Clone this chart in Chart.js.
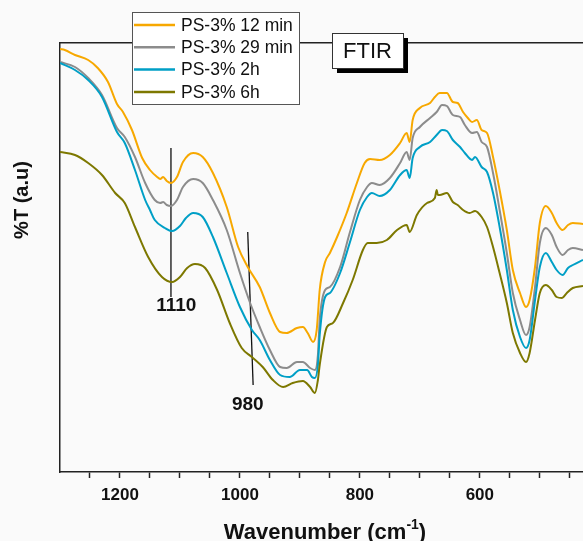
<!DOCTYPE html>
<html>
<head>
<meta charset="utf-8">
<script src="https://cdn.jsdelivr.net/npm/chart.js@4.4.1/dist/chart.umd.min.js"></script>
<style>
html,body{margin:0;padding:0;background:#fafafa;overflow:hidden;}
canvas{display:block;}
</style>
</head>
<body>
<canvas id="c" width="583" height="541"></canvas>
<script>
// ---- data (wavenumber in cm^-1, transmittance in arbitrary units) ----
const seriesNames = ['PS-3% 12 min', 'PS-3% 29 min', 'PS-3% 2h', 'PS-3% 6h'];
const seriesColors = ['#F7A800', '#8C8C8C', '#009FC6', '#7D7800'];

const wn12min = [1300,1292,1275,1253,1237,1220,1205,1195,1180,1163,1150,1138,1133,1128,1122,1115,1105,1095,1078,1062,1045,1022,1003,987,967,950,933,922,905,895,887,878,872,870,867,858,850,838,822,805,792,783,767,750,733,722,717,712,700,683,675,667,655,645,637,628,620,613,605,597,588,578,567,555,545,533,523,517,508,500,490,480,472,462,453,445,428];
const t12min  = [423,422,417,412,404,390,368,360,342,314,302,295,293,295,291,289,295,310,319,315,299,265,225,205,185,159,140,139,144,145,139,130,142,157,182,210,219,235,259,289,309,313,312,317,329,339,330,352,364,369,375,379,379,370,369,360,354,350,352,342,339,315,282,242,202,179,165,172,205,249,266,259,249,242,247,249,248];

const wn29min = [1300,1275,1253,1230,1205,1192,1175,1158,1142,1133,1128,1122,1115,1105,1095,1078,1062,1045,1022,1000,983,967,950,933,922,905,895,883,875,870,867,858,850,833,817,800,788,780,767,750,733,722,717,712,700,683,672,663,655,645,633,625,613,605,597,588,578,567,555,545,533,523,517,508,500,490,480,472,462,453,445,428];
const t29min  = [410,405,394,377,344,335,315,289,272,269,270,267,266,272,285,293,289,272,242,199,169,145,122,105,104,110,110,104,102,117,152,182,185,205,239,272,285,289,287,294,309,320,312,334,345,354,360,367,366,357,355,347,339,340,330,325,299,262,219,179,152,137,145,185,229,244,237,225,217,222,224,222];

const wn2h = [1300,1275,1253,1230,1205,1192,1175,1158,1150,1142,1125,1113,1100,1090,1078,1062,1045,1022,1000,980,967,950,933,917,900,888,880,875,870,867,858,850,833,817,800,788,780,767,750,733,722,717,712,700,683,672,663,655,645,633,625,613,608,597,588,578,567,555,545,533,523,517,508,500,490,480,472,462,453,445,428];
const t2h  = [409,402,392,375,340,329,302,272,262,252,244,241,246,254,259,255,235,199,165,142,132,112,97,95,102,102,95,94,107,137,175,179,199,229,262,275,279,276,282,297,302,294,314,325,330,337,342,341,332,325,319,312,315,305,300,279,245,202,162,135,124,132,172,205,219,210,202,197,204,207,212];

const wn6h = [1300,1275,1253,1230,1208,1192,1175,1153,1130,1113,1100,1088,1075,1058,1038,1017,997,980,962,945,928,912,895,883,875,870,867,855,845,828,812,795,787,772,755,738,722,717,705,688,675,672,670,667,655,645,637,628,617,608,597,588,578,567,555,545,533,523,517,508,500,490,480,472,463,455,445,428];
const t6h  = [320,317,309,297,279,269,245,215,195,190,195,204,208,204,182,149,124,115,105,92,85,89,91,85,79,92,107,145,149,169,192,222,229,229,232,242,247,240,257,269,274,282,277,277,279,270,267,262,259,261,255,245,225,199,169,139,119,110,119,152,179,187,182,175,174,179,184,186];

// x axis ticks
const majorTicks = [1200, 1000, 800, 600];
const allTicks = [1250,1200,1150,1100,1050,1000,950,900,850,800,750,700,650,600,550,500,450];

// annotation marker lines (wavenumber, a.u.) and labels
const mark1110Wn = [1115, 1115];
const mark1110T  = [324, 175];
const mark980Wn  = [987, 978];
const mark980T   = [240, 87];
const markLabels = ['1110', '980'];
const markLabelWn = [1106, 987];
const markLabelT  = [166, 67];

const FONT = '"Liberation Sans", Arial, sans-serif';

const toXY = (xs, ys) => xs.map((x, i) => ({x: x, y: ys[i]}));

const specWn = [wn12min, wn29min, wn2h, wn6h];
const specT = [t12min, t29min, t2h, t6h];

const datasets = [];
for (let i = 3; i >= 0; i--) {
  datasets.push({
    label: seriesNames[i],
    data: toXY(specWn[i], specT[i]),
    borderColor: seriesColors[i],
    borderWidth: 2,
    pointRadius: 0,
    cubicInterpolationMode: 'monotone',
    fill: false
  });
}
datasets.push({label: '_m1', data: toXY(mark1110Wn, mark1110T), borderColor: '#111', borderWidth: 1.3, pointRadius: 0});
datasets.push({label: '_m2', data: toXY(mark980Wn, mark980T), borderColor: '#111', borderWidth: 1.3, pointRadius: 0});

const overlayPlugin = {
  id: 'overlay',
  beforeDraw(chart) {
    const ctx = chart.ctx;
    ctx.save();
    ctx.fillStyle = '#fafafa';
    ctx.fillRect(0, 0, chart.width, chart.height);
    ctx.restore();
  },
  afterDraw(chart) {
    const ctx = chart.ctx;
    const xs = chart.scales.x, ys = chart.scales.y;
    ctx.save();
    // annotation labels
    ctx.fillStyle = '#111';
    ctx.font = 'bold 19px ' + FONT;
    ctx.textAlign = 'center';
    ctx.textBaseline = 'middle';
    markLabels.forEach((t, i) => {
      ctx.fillText(t, xs.getPixelForValue(markLabelWn[i]), ys.getPixelForValue(markLabelT[i]));
    });

    // legend box
    const lx = 132, ly = 12, lw = 167, lh = 92;
    ctx.fillStyle = '#ffffff';
    ctx.fillRect(lx, ly, lw, lh);
    ctx.strokeStyle = '#555';
    ctx.lineWidth = 1;
    ctx.strokeRect(lx + 0.5, ly + 0.5, lw, lh);
    ctx.font = '17.5px ' + FONT;
    ctx.textAlign = 'left';
    ctx.textBaseline = 'middle';
    seriesNames.forEach((name, i) => {
      const y = 25 + i * 22.3;
      ctx.strokeStyle = seriesColors[i];
      ctx.lineWidth = 2.5;
      ctx.beginPath();
      ctx.moveTo(134, y);
      ctx.lineTo(175, y);
      ctx.stroke();
      ctx.fillStyle = '#111';
      ctx.fillText(name, 181, y + 1);
    });

    // FTIR box with shadow
    const fx = 332, fy = 33, fw = 71, fh = 35;
    ctx.fillStyle = '#000';
    ctx.fillRect(fx + 5, fy + 5, fw, fh);
    ctx.fillStyle = '#fff';
    ctx.fillRect(fx, fy, fw, fh);
    ctx.strokeStyle = '#333';
    ctx.lineWidth = 1;
    ctx.strokeRect(fx + 0.5, fy + 0.5, fw, fh);
    ctx.fillStyle = '#111';
    ctx.font = '22px ' + FONT;
    ctx.textAlign = 'center';
    ctx.fillText('FTIR', fx + fw / 2, fy + fh / 2 + 1);

    // x-axis title with superscript
    ctx.font = 'bold 22px ' + FONT;
    ctx.textAlign = 'left';
    ctx.textBaseline = 'alphabetic';
    const p1 = 'Wavenumber (cm', sup = '-1', p2 = ')';
    const w1 = ctx.measureText(p1).width;
    ctx.font = 'bold 14px ' + FONT;
    const ws = ctx.measureText(sup).width;
    ctx.font = 'bold 22px ' + FONT;
    const w2 = ctx.measureText(p2).width;
    let sx = 325 - (w1 + ws + w2) / 2;
    const by = 539;
    ctx.fillText(p1, sx, by);
    ctx.font = 'bold 14px ' + FONT;
    ctx.fillText(sup, sx + w1, by - 10);
    ctx.font = 'bold 22px ' + FONT;
    ctx.fillText(p2, sx + w1 + ws, by);

    // y-axis title
    ctx.translate(22, 200);
    ctx.rotate(-Math.PI / 2);
    ctx.textAlign = 'center';
    ctx.textBaseline = 'middle';
    ctx.font = 'bold 20px ' + FONT;
    ctx.fillText('%T (a.u)', 0, 0);
    ctx.restore();
  }
};

new Chart(document.getElementById('c'), {
  type: 'line',
  data: {datasets: datasets},
  options: {
    responsive: false,
    animation: false,
    devicePixelRatio: 1,
    layout: {padding: 0},
    plugins: {legend: {display: false}, tooltip: {enabled: false}},
    scales: {
      x: {
        type: 'linear',
        position: 'bottom',
        reverse: true,
        min: 428,
        max: 1300,
        afterBuildTicks: (s) => { s.ticks = allTicks.map(v => ({value: v, major: majorTicks.includes(v)})); },
        afterFit: (s) => { s.height = 69; },
        ticks: {
          autoSkip: false,
          maxRotation: 0,
          padding: 7,
          color: '#111',
          font: {family: FONT, size: 17, weight: 'bold'},
          callback: (v) => majorTicks.includes(v) ? String(v) : ''
        },
        grid: {drawOnChartArea: false, drawTicks: true, tickLength: 6, tickColor: '#222', tickWidth: 1.5},
        border: {display: true, color: '#222', width: 1.5}
      },
      x2: {
        type: 'linear',
        position: 'top',
        reverse: true,
        min: 428,
        max: 1300,
        afterFit: (s) => { s.height = 43; },
        ticks: {display: false},
        grid: {drawOnChartArea: false, drawTicks: false},
        border: {display: true, color: '#222', width: 1.5}
      },
      y: {
        type: 'linear',
        min: 0,
        max: 429,
        afterFit: (s) => { s.width = 60; },
        ticks: {display: false},
        grid: {drawOnChartArea: false, drawTicks: false},
        border: {display: true, color: '#222', width: 1.5}
      }
    }
  },
  plugins: [overlayPlugin]
});
</script>
</body>
</html>
